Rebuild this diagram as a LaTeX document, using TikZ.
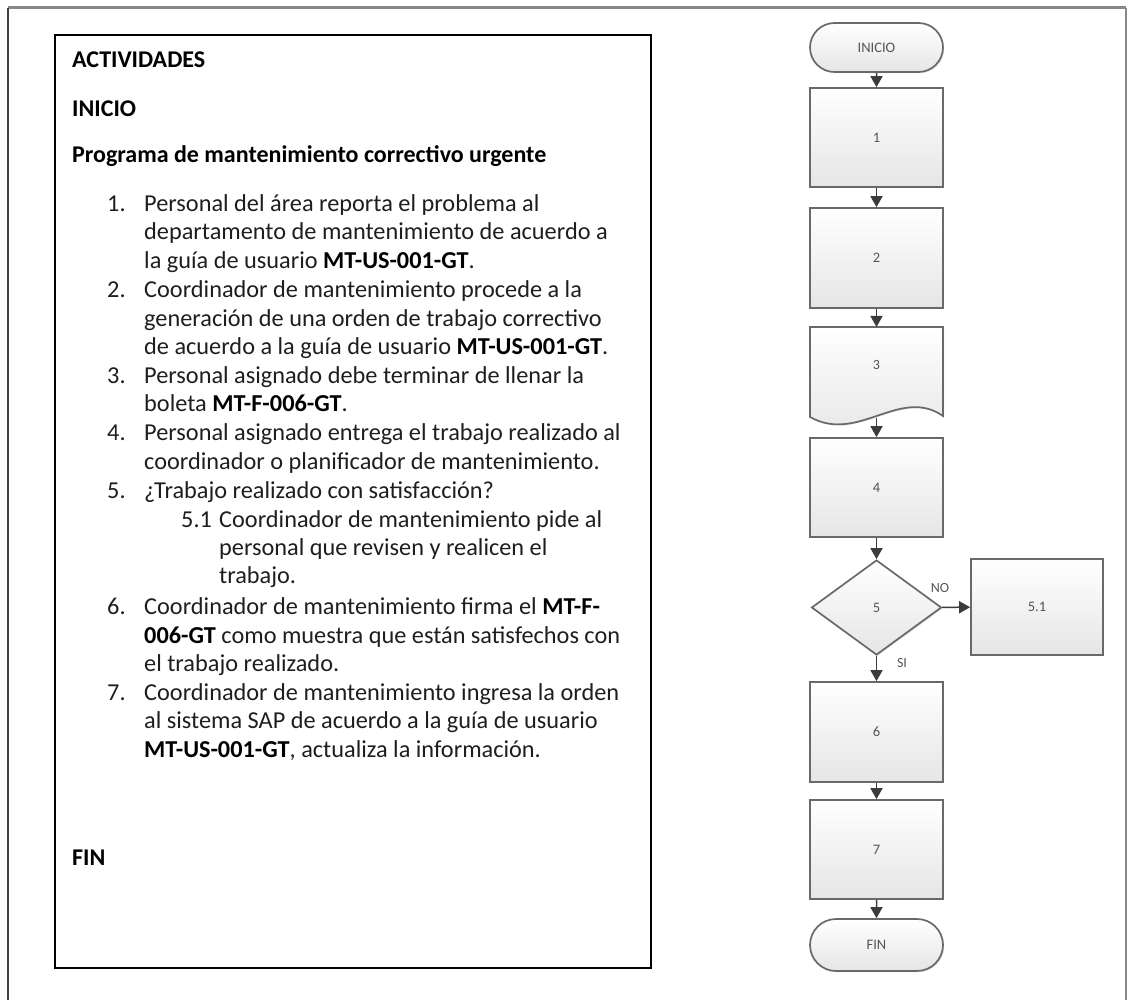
\documentclass[tikz,border=0pt]{standalone}
\usepackage{fontspec}
\setmainfont{Carlito}
\usetikzlibrary{shapes.geometric,shapes.misc,arrows.meta,shadows}
\definecolor{frameg}{RGB}{136,136,136}
\definecolor{shapeb}{RGB}{105,105,105}
\definecolor{arrowc}{RGB}{60,60,60}
\definecolor{smalltxt}{RGB}{85,85,85}
\definecolor{bodytxt}{RGB}{30,30,30}
\begin{document}
\begin{tikzpicture}[x=1pt,y=-1pt,
  txt/.style={anchor=base west,inner sep=0pt,text=bodytxt,font=\fontsize{24.3}{28.7}\selectfont},
  hdr/.style={txt,text=black,font=\fontsize{24}{28.7}\selectfont\bfseries},
  fshape/.style={draw=shapeb,line width=1.7pt,top color=white,bottom color=black!10,
     inner sep=0pt,text=smalltxt,font=\fontsize{14.5}{16}\selectfont,
     drop shadow={shadow xshift=1.2pt,shadow yshift=-1.2pt,opacity=0.25}},
  procbox/.style={fshape,rectangle,minimum width=133pt,minimum height=99pt},
  termbox/.style={fshape,rounded rectangle,minimum width=133pt},
  decbox/.style={fshape,diamond,minimum width=130pt,minimum height=95pt},
  flowarrow/.style={draw=arrowc,line width=1.5pt,-{Triangle[width=12pt,length=11pt]}},
  lbl/.style={inner sep=0pt,text=smalltxt,font=\fontsize{14}{16}\selectfont}
]
\useasboundingbox (0,0) rectangle (1128,1000);
% outer frame
\draw[frameg,line width=3pt] (8,8) -- (1126,8);
\draw[black!75,line width=1.5pt] (8,8) -- (8,1000);
\draw[frameg,line width=2pt] (1126,8) -- (1126,1000);
% text box
\draw[black,line width=1.6pt] (55,35) rectangle (651,968);

\node[hdr] (h1) at (72,68) {ACTIVIDADES};
\node[hdr] (h2) at (72,117) {INICIO};
\node[hdr] (h3) at (72,163) {Programa de mantenimiento correctivo urgente};

\node[txt] (n1) at (107,212) {1.};
\node[txt] (l1) at (144,212) {Personal del área reporta el problema al};
\node[txt] (l2) at (144,240) {departamento de mantenimiento de acuerdo a};
\node[txt] (l3) at (144,269) {la guía de usuario \textbf{\color{black}MT-US-001-GT}.};
\node[txt] (n2) at (107,298) {2.};
\node[txt] (l4) at (144,298) {Coordinador de mantenimiento procede a la};
\node[txt] (l5) at (144,327) {generación de una orden de trabajo correctivo};
\node[txt] (l6) at (144,355) {de acuerdo a la guía de usuario \textbf{\color{black}MT-US-001-GT}.};
\node[txt] (n3) at (107,384) {3.};
\node[txt] (l7) at (144,384) {Personal asignado debe terminar de llenar la};
\node[txt] (l8) at (144,412) {boleta \textbf{\color{black}MT-F-006-GT}.};
\node[txt] (n4) at (107,441) {4.};
\node[txt] (l9) at (144,441) {Personal asignado entrega el trabajo realizado al};
\node[txt] (l10) at (144,469) {coordinador o planificador de mantenimiento.};
\node[txt] (n5) at (107,498) {5.};
\node[txt] (l11) at (144,498) {¿Trabajo realizado con satisfacción?};
\node[txt] (n51) at (181,527) {5.1};
\node[txt] (l12) at (219,527) {Coordinador de mantenimiento pide al};
\node[txt] (l13) at (219,555) {personal que revisen y realicen el};
\node[txt] (l14) at (219,583) {trabajo.};
\node[txt] (n6) at (107,614) {6.};
\node[txt] (l15) at (144,614) {Coordinador de mantenimiento firma el \textbf{\color{black}MT-F-}};
\node[txt] (l16) at (144,643) {\textbf{\color{black}006-GT} como muestra que están satisfechos con};
\node[txt] (l17) at (144,671) {el trabajo realizado.};
\node[txt] (n7) at (107,700) {7.};
\node[txt] (l18) at (144,700) {Coordinador de mantenimiento ingresa la orden};
\node[txt] (l19) at (144,728) {al sistema SAP de acuerdo a la guía de usuario};
\node[txt] (l20) at (144,757) {\textbf{\color{black}MT-US-001-GT}, actualiza la información.};
\node[hdr] (h4) at (72,865) {FIN};

% flowchart
\node[termbox,minimum height=49pt] (ini) at (876.5,47.5) {INICIO};
\node[procbox] (b1) at (876.5,137.5) {1};
\node[procbox,minimum height=100pt] (b2) at (876.5,258) {2};
% document shape 3
\path[fshape] (810,327) -- (943,327) -- (943,416)
   .. controls (900,386) and (858,444) .. (810,417) -- cycle;
\node[lbl] (b3) at (876.5,365) {3};
\coordinate (b3top) at (876.5,327);
\coordinate (b3bot) at (876.5,418);
\node[procbox] (b4) at (876.5,487.5) {4};
\node[decbox] (d5) at (876.5,607.5) {5};
\node[procbox,minimum width=132pt,minimum height=96pt] (b51) at (1037,607) {5.1};
\node[procbox,minimum height=100pt] (b6) at (876.5,732) {6};
\node[procbox] (b7) at (876.5,849.5) {7};
\node[termbox,minimum height=52pt] (fin) at (876.5,945) {FIN};

\draw[flowarrow] (ini) -- (b1);
\draw[flowarrow] (b1) -- (b2);
\draw[flowarrow] (b2) -- (b3top);
\draw[flowarrow] (b3bot) -- (b4);
\draw[flowarrow] (b4) -- (d5);
\draw[flowarrow] (d5) -- (b51);
\draw[flowarrow] (d5) -- (b6);
\draw[flowarrow] (b6) -- (b7);
\draw[flowarrow] (b7) -- (fin);

\node[lbl] (no) at (940,588) {NO};
\node[lbl] (si) at (902,663) {SI};
\end{tikzpicture}
\end{document}
